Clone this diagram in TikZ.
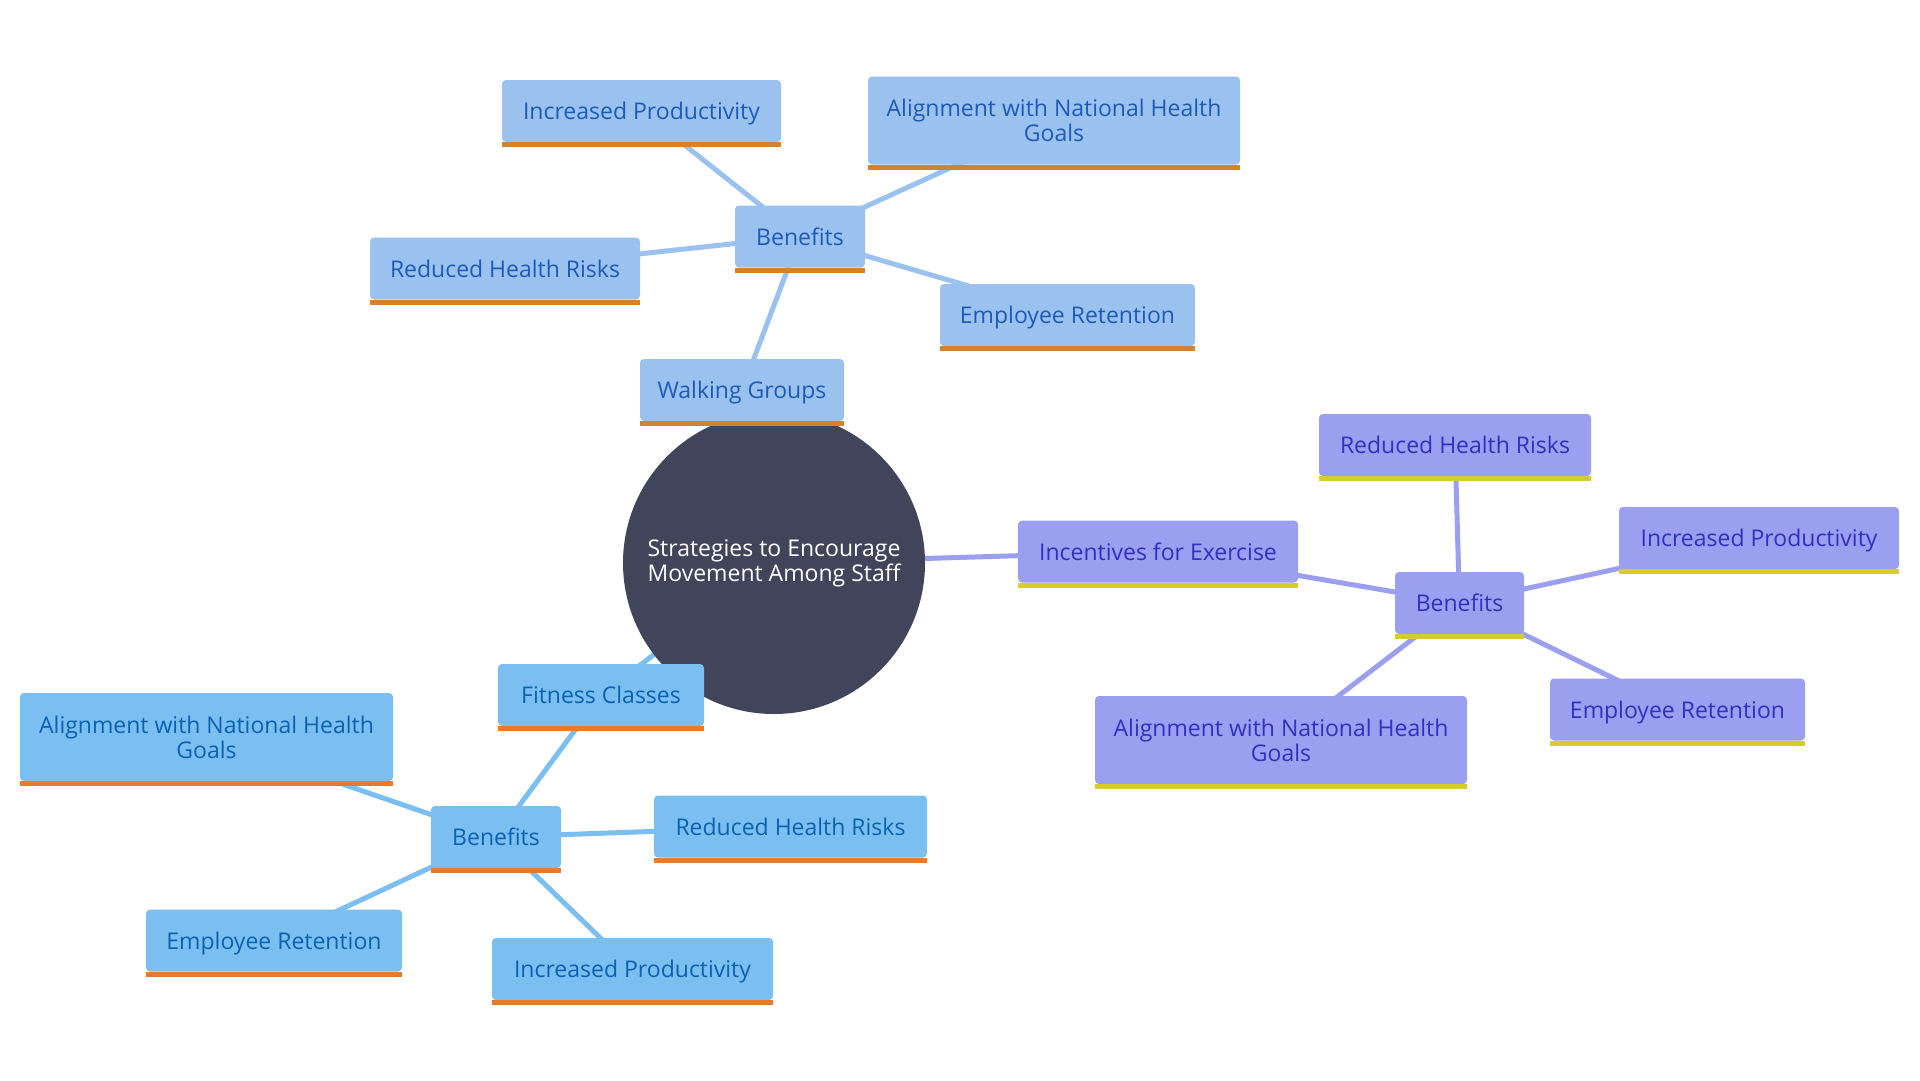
\documentclass[tikz,border=0pt]{standalone}
\usepackage{fontspec}
\setmainfont{Open Sans}
\usetikzlibrary{backgrounds}
\definecolor{wfill}{HTML}{9BC2EF}
\definecolor{wtext}{HTML}{1C5BB8}
\definecolor{wbar}{HTML}{D5832B}
\definecolor{ffill}{HTML}{7BBFF0}
\definecolor{ftext}{HTML}{0A62B4}
\definecolor{fbar}{HTML}{E67A2E}
\definecolor{ifill}{HTML}{9A9FF0}
\definecolor{itext}{HTML}{3131BF}
\definecolor{ibar}{HTML}{D6CC2A}
\definecolor{cfill}{HTML}{40455C}
\tikzset{
  box/.style={rectangle, rounded corners=4pt, inner sep=0pt, minimum height=62pt, align=center, text depth=0pt, font=\fontsize{23}{25}\selectfont},
  tall/.style={minimum height=88pt},
  wbox/.style={box, fill=wfill, text=wtext},
  fbox/.style={box, fill=ffill, text=ftext},
  ibox/.style={box, fill=ifill, text=itext},
  hub/.style={circle, fill=cfill, text=white, minimum size=302pt, inner sep=0pt, align=center, font=\fontsize{23}{25}\selectfont},
  wedge/.style={draw=wfill, line width=5pt},
  fedge/.style={draw=ffill, line width=5pt},
  iedge/.style={draw=ifill, line width=5pt},
}
\begin{document}
\begin{tikzpicture}[x=1pt,y=-1pt]
\useasboundingbox (0,0) rectangle (1920,1080);
% hub
\node[hub] (c) at (774,563) {Strategies to Encourage\\Movement Among Staff};
% walking groups branch
\node[wbox, minimum width=204pt] (wg) at (742,390) {Walking Groups};
\node[wbox, minimum width=130pt] (wb) at (800,236.5) {Benefits};
\node[wbox, minimum width=279pt] (wip) at (641.5,111) {Increased Productivity};
\node[wbox, tall, minimum width=372pt] (wal) at (1054,120.5) {Alignment with National Health\\Goals};
\node[wbox, minimum width=270pt] (wrh) at (505,268.5) {Reduced Health Risks};
\node[wbox, minimum width=255pt] (wer) at (1067.5,315) {Employee Retention};
% incentives branch
\node[ibox, minimum width=280pt] (ie) at (1158,551.5) {Incentives for Exercise};
\node[ibox, minimum width=129pt] (ib) at (1459.5,603) {Benefits};
\node[ibox, minimum width=272pt] (irh) at (1455,445) {Reduced Health Risks};
\node[ibox, minimum width=280pt] (iip) at (1759,538) {Increased Productivity};
\node[ibox, minimum width=255pt] (ier) at (1677.5,709.5) {Employee Retention};
\node[ibox, tall, minimum width=372pt] (ial) at (1281,740) {Alignment with National Health\\Goals};
% fitness branch
\node[fbox, minimum width=206pt] (fc) at (601,695) {Fitness Classes};
\node[fbox, minimum width=130pt] (fb) at (496,837) {Benefits};
\node[fbox, tall, minimum width=373pt] (fal) at (206.5,737) {Alignment with National Health\\Goals};
\node[fbox, minimum width=273pt] (frh) at (790.5,826.5) {Reduced Health Risks};
\node[fbox, minimum width=256pt] (fer) at (274,940.5) {Employee Retention};
\node[fbox, minimum width=281pt] (fip) at (632.5,969) {Increased Productivity};
% bottom bars
\foreach \n in {wg,wb,wip,wal,wrh,wer}
  \fill[wbar] (\n.south west) rectangle ([yshift=-5pt]\n.south east);
\foreach \n in {ie,ib,irh,iip,ier,ial}
  \fill[ibar] (\n.south west) rectangle ([yshift=-5pt]\n.south east);
\foreach \n in {fc,fb,fal,frh,fer,fip}
  \fill[fbar] (\n.south west) rectangle ([yshift=-5pt]\n.south east);
% connectors
\begin{pgfonlayer}{background}
\fill[white] (0,0) rectangle (1920,1080);
\draw[wedge] (c.center) -- (wg.center);
\draw[wedge] (wg.center) -- (wb.center);
\foreach \n in {wip,wal,wrh,wer} \draw[wedge] (wb.center) -- (\n.center);
\draw[iedge] (c.center) -- (ie.center);
\draw[iedge] (ie.center) -- (ib.center);
\foreach \n in {irh,iip,ier,ial} \draw[iedge] (ib.center) -- (\n.center);
\draw[fedge] (c.center) -- (fc.center);
\draw[fedge] (fc.center) -- (fb.center);
\foreach \n in {fal,frh,fer,fip} \draw[fedge] (fb.center) -- (\n.center);
\end{pgfonlayer}
\end{tikzpicture}
\end{document}
